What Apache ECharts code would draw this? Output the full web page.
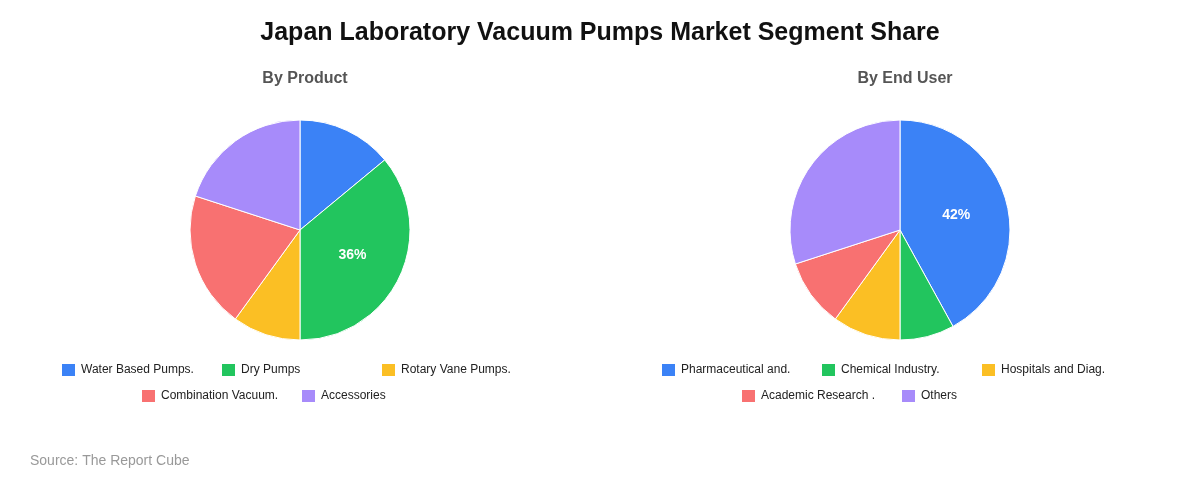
<!DOCTYPE html>
<html><head><meta charset="utf-8">
<script src="https://cdn.jsdelivr.net/npm/echarts@6/dist/echarts.min.js"></script>
<style>html,body{margin:0;padding:0;background:#fff}#c{width:1200px;height:480px}</style>
</head><body><div id="c"></div>
<script>
const productNames = ["Water Based Pumps.", "Dry Pumps", "Rotary Vane Pumps.", "Combination Vacuum.", "Accessories"];
const productValues = [14, 36, 10, 20, 20];
const endUserNames = ["Pharmaceutical and.", "Chemical Industry.", "Hospitals and Diag.", "Academic Research .", "Others"];
const endUserValues = [42, 8, 10, 10, 30];
const colors = ["#3b82f6", "#22c55e", "#fbbf24", "#f87171", "#a78bfa"];

function pieData(names, vals) {
  const max = Math.max(...vals);
  return names.map((n, i) => ({
    name: n, value: vals[i], itemStyle: { color: colors[i] },
    label: { show: vals[i] === max }
  }));
}
function pie(center, names, vals) {
  return {
    type: 'pie', radius: 110, center: center, startAngle: 90, clockwise: true,
    itemStyle: { borderColor: '#fff', borderWidth: 1 },
    label: { position: 'inside', formatter: '{d}%', color: '#fff', fontWeight: 'bold', fontSize: 14, fontFamily: 'Liberation Sans' },
    labelLine: { show: false }, emphasis: { disabled: true },
    data: pieData(names, vals)
  };
}
function legs(baseLeft, names) {
  const out = [];
  names.forEach((n, i) => {
    const row = i < 3 ? 0 : 1;
    const col = i < 3 ? i : i - 3;
    const left = baseLeft + (row ? 80 : 0) + col * 160 - 5;
    out.push({
      left: left, top: row ? 383 : 357, data: [n], itemWidth: 15, itemHeight: 14,
      icon: 'rect', selectedMode: false,
      textStyle: { fontSize: 12, color: '#222', fontFamily: 'Liberation Sans' }
    });
  });
  return out;
}
const chart = echarts.init(document.getElementById('c'));
chart.setOption({
  animation: false,
  title: [
    { text: 'Japan Laboratory Vacuum Pumps Market Segment Share', left: 'center', top: 16,
      textStyle: { fontSize: 25, fontWeight: 'bold', color: '#111', fontFamily: 'Liberation Sans' } },
    { text: 'By Product', left: 300, textAlign: 'center', top: 66,
      textStyle: { fontSize: 16, fontWeight: 'bold', color: '#555', fontFamily: 'Liberation Sans' } },
    { text: 'By End User', left: 900, textAlign: 'center', top: 66,
      textStyle: { fontSize: 16, fontWeight: 'bold', color: '#555', fontFamily: 'Liberation Sans' } },
    { text: 'Source: The Report Cube', left: 25, top: 449,
      textStyle: { fontSize: 14, fontWeight: 'normal', color: '#999', fontFamily: 'Liberation Sans' } }
  ],
  legend: legs(60, productNames).concat(legs(660, endUserNames)),
  series: [
    pie([300, 230], productNames, productValues),
    pie([900, 230], endUserNames, endUserValues)
  ]
});
</script></body></html>
